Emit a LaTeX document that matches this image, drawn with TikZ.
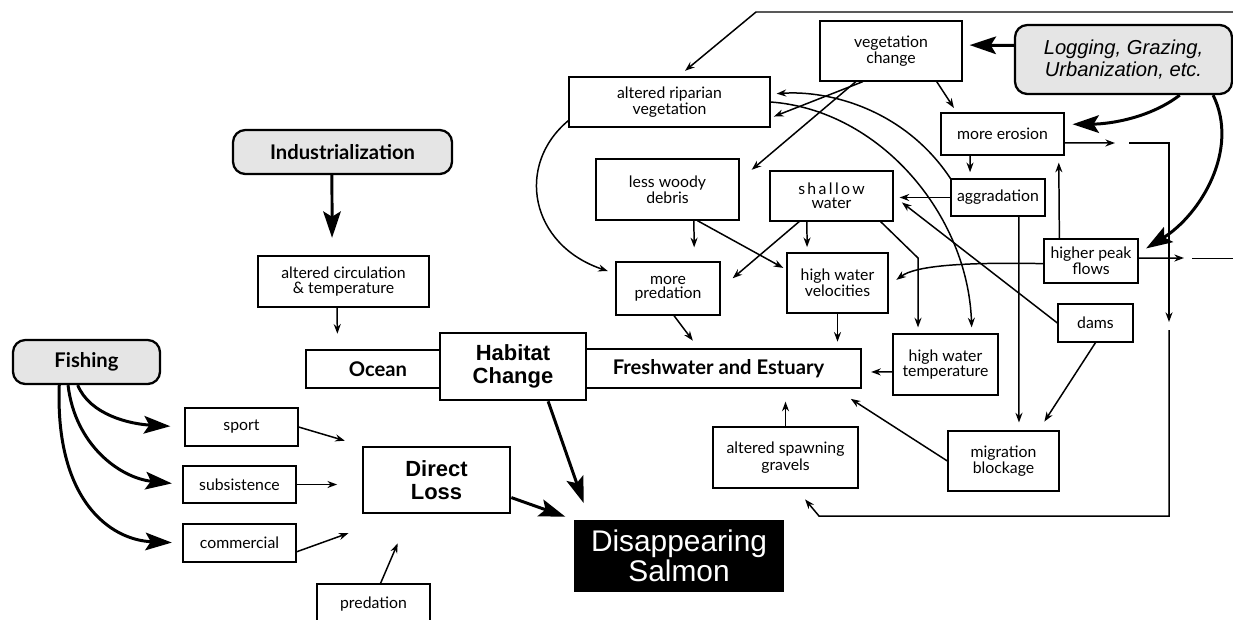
\documentclass[tikz,border=0pt]{standalone}
\usepackage{fontspec}
\setmainfont{Lato}
\newfontfamily\helv{Liberation Sans}
\usetikzlibrary{arrows.meta}

\begin{document}
\begin{tikzpicture}[x=0.02cm, y=-0.02cm,
	box/.style={draw, line width=0.7pt, inner sep=0pt, align=center, font=\fontsize{9}{8}\selectfont},
	wall/.style={draw, line width=1.5pt, fill=white, inner sep=0pt, align=center},
	cause/.style={draw, line width=1.3pt, rounded corners=7pt, fill=black!10, inner sep=0pt, align=center, font=\fontsize{11.5}{12}\selectfont\bfseries},
	arr/.style={line width=0.85pt, -{Stealth[length=5.5pt,width=4pt]}},
	fat/.style={line width=1.7pt, -{Stealth[length=15pt,width=10pt,inset=3pt]}},
	sz/.style 2 args={minimum width=#1*0.02cm, minimum height=#2*0.02cm}]
	\useasboundingbox (0,0) rectangle (1233,619);
	\clip (0,0) rectangle (1233,619);
	% root causes
	\node[cause, sz={219}{44}] (indus) at (342.5,152) {Industrialization};
	\node[cause, sz={147}{44}] (fish) at (86.5,362) {Fishing};
	\node[cause, sz={217}{69}, font=\helv\itshape\fontsize{11.5}{13}\selectfont] (log) at (1123.5,59.5) {Logging, Grazing,\\Urbanization, etc.};
	% habitat bar
	\node[wall, sz={144}{38}, font=\fontsize{11.5}{12}\selectfont\bfseries] (ocean) at (378,369) {Ocean};
	\node[wall, sz={285}{39}, font=\fontsize{11.5}{12}\selectfont\bfseries] (fresh) at (718.5,368.5) {Freshwater and Estuary};
	\node[wall, sz={146}{67}, font=\helv\bfseries\fontsize{12.5}{13}\selectfont] (habitat) at (513,366.5) {Habitat\\Change};
	\node[wall, sz={147}{66}, font=\helv\bfseries\fontsize{12.5}{13}\selectfont] (direct) at (436.5,480) {Direct\\Loss};
	\node[fill=black, text=white, inner sep=0pt, align=center, sz={210}{72}, font=\helv\fontsize{17}{15}\selectfont] (salmon) at (679,556) {Disappearing\\Salmon};
	% ocean and fishing side
	\node[box, sz={171}{51}] (circ) at (343.5,281.5) {altered circulation\\\& temperature};
	\node[box, sz={113}{38}] (sport) at (241.5,427) {sport};
	\node[box, sz={113}{37}] (subs) at (239.5,484.5) {subsistence};
	\node[box, sz={113}{38}] (comm) at (239.5,543) {commercial};
	\node[box, sz={113}{40}] (pred) at (373.5,604) {predation};
	% land use side
	\node[box, sz={201}{50}] (riparian) at (669.5,102) {altered riparian\\vegetation};
	\node[box, sz={142}{60}] (vegchg) at (891,51) {vegetation\\change};
	\node[box, sz={143}{61}] (woody) at (667.5,189.5) {less woody\\debris};
	\node[box, sz={123}{50}] (shallow) at (831.5,196) {{\addfontfeature{LetterSpace=15}shallow}\\water};
	\node[box, sz={104}{53}] (morepred) at (668,288.5) {more\\predation};
	\node[box, sz={101}{60}] (highvel) at (837.5,283) {high water\\velocities};
	\node[box, sz={123}{42}] (erosion) at (1002.5,134) {more erosion};
	\node[box, sz={94}{37}] (aggr) at (998,197.5) {aggradation};
	\node[box, sz={94}{44}] (peak) at (1091,261) {higher peak\\flows};
	\node[box, sz={75}{38}] (dams) at (1095.5,323) {dams};
	\node[box, sz={105}{61}] (hightemp) at (945.5,364.5) {high water\\temperature};
	\node[box, sz={111}{60}] (migr) at (1003.5,461) {migration\\blockage};
	\node[box, sz={145}{61}] (spawn) at (785.5,457.5) {altered spawning\\gravels};
	% loose ends of the long lines
	\coordinate (topR) at (1240,12);
	\coordinate (topL) at (756,12);
	\coordinate (ero1) at (1115,143);
	\coordinate (ero2) at (1129,143);
	\coordinate (ero3) at (1169,143);
	\coordinate (ero4) at (1169,322);
	\coordinate (ero5) at (1169,330);
	\coordinate (ero6) at (1169,516);
	\coordinate (ero7) at (819,516);
	\coordinate (flow1) at (1184,258);
	\coordinate (flow2) at (1192,258);
	\coordinate (flow3) at (1240,258);
	\coordinate (bend) at (918,258);
	% industrialization
	\draw[fat, shorten >=10pt] ([xshift=-6pt]indus.south) -- ([xshift=-6.5pt]circ.north);
	\draw[arr, shorten >=8.5pt] ([xshift=-3.7pt]circ.south) -- ([xshift=-23pt]ocean.north);
	% fishing
	\draw[fat, shorten >=8pt] ([xshift=-5pt]fish.south) .. controls (90,415) and (130,424) .. (sport.west);
	\draw[fat, shorten >=6pt] ([xshift=-10.5pt]fish.south) .. controls (75,445) and (120,478) .. (subs.west);
	\draw[fat, shorten >=6pt] ([xshift=-15.5pt]fish.south) .. controls (55,500) and (110,540) .. (comm.west);
	\draw[arr, shorten >=10pt] (sport.east) -- (direct.north west);
	\draw[arr, shorten >=14pt] (subs.east) -- (direct.west |- subs.east);
	\draw[arr, shorten >=8pt] ([yshift=-5pt]comm.east) -- ([yshift=-8pt]direct.south west);
	\draw[arr, shorten >=18pt] ([xshift=4pt]pred.north) -- ([xshift=-15pt]direct.south);
	% into the salmon
	\draw[fat, shorten >=5pt] ([yshift=-10pt]direct.east) -- (salmon.north west);
	\draw[fat, shorten >=10pt] ([xshift=20pt]habitat.south) -- ([xshift=9pt]salmon.north west);
	% logging, grazing etc.
	\draw[arr, shorten >=5pt] (topR) -- (topL) -- ([xshift=5pt]riparian.north);
	\draw[fat, shorten >=4pt] ([yshift=8pt]log.west) -- ([yshift=3.4pt]vegchg.east);
	\draw[fat, shorten >=4.5pt] ([xshift=32pt]log.south) .. controls (1150,118) and (1110,124) .. ([yshift=5.5pt]erosion.east);
	\draw[fat, shorten >=5pt] ([xshift=51pt]log.south) .. controls (1240,150) and (1200,215) .. ([yshift=4.5pt]peak.east);
	% vegetation change
	\draw[arr, shorten >=2pt] ([xshift=-16pt]vegchg.south) -- ([yshift=-9pt]riparian.east);
	\draw[arr, shorten >=9pt] ([xshift=-20pt]vegchg.south) -- ([yshift=5.4pt]woody.east);
	\draw[arr, shorten >=3pt] ([xshift=26pt]vegchg.south) -- ([xshift=-26pt]erosion.north);
	\draw[arr, shorten >=4.5pt] ([yshift=4pt]riparian.south west) .. controls (515,165) and (530,245) .. ([yshift=8.5pt]morepred.west);
	\draw[arr, shorten >=3.4pt] (riparian.east) .. controls (880,110) and (968,215) .. ([xshift=15pt]hightemp.north);
	% erosion and flows
	\draw[arr] ([yshift=-5pt]erosion.east) -- (ero1);
	\draw[arr] (ero2) -- (ero3) -- (ero4);
	\draw[arr, shorten >=8pt] (ero5) -- (ero6) -- (ero7) -- ([xshift=6pt]spawn.south);
	\draw[arr, shorten >=3.5pt] ([xshift=-18.5pt]erosion.south) -- ([xshift=-15.9pt]aggr.north);
	\draw[arr, shorten >=4pt] ([xshift=-18pt]peak.north) -- ([xshift=32pt]erosion.south);
	\draw[arr] ([yshift=1.7pt]peak.east) -- (flow1);
	\draw (flow2) -- (flow3);
	\draw[arr, shorten >=5.5pt] ([yshift=-1.5pt]peak.west) .. controls (960,262) and (915,266) .. ([yshift=-1.5pt]highvel.east);
	\draw[arr, shorten >=3.4pt] (aggr.west) -- (aggr.west -| shallow.east);
	\draw[arr, shorten >=3.4pt] (aggr.north west) .. controls (905,110) and (830,90) .. ([yshift=4.5pt]riparian.east);
	\draw[arr, shorten >=4.5pt] ([xshift=11.9pt]aggr.south) -- ([xshift=8.8pt]migr.north);
	% dams
	\draw[arr, shorten >=6pt] (dams.west) -- (shallow.east);
	\draw[arr, shorten >=6pt] (dams.south) -- ([xshift=20pt]migr.north);
	% into freshwater and estuary
	\draw[arr, shorten >=10pt] (migr.west) -- ([xshift=-15pt]fresh.south east);
	\draw[arr, shorten >=5pt] ([yshift=-4.2pt]hightemp.west) -- ([yshift=-2pt]fresh.east);
	\draw[arr, shorten >=3.4pt] (highvel.south) -- (highvel.south |- fresh.north);
	\draw[arr, shorten >=5pt] ([xshift=3.4pt]morepred.south) -- ([xshift=-11.6pt]fresh.north);
	\draw[arr, shorten >=7pt] (spawn.north) -- (spawn.north |- fresh.south);
	% woody debris and shallow water
	\draw[arr, shorten >=8pt] ([xshift=15pt]woody.south) -- ([xshift=15pt]morepred.north);
	\draw[arr, shorten >=2pt] ([xshift=17pt]woody.south) -- ([yshift=7.6pt]highvel.west);
	\draw[arr, shorten >=9pt] ([xshift=-18.4pt]shallow.south) -- (morepred.east);
	\draw[arr, shorten >=3pt] ([xshift=-14pt]shallow.south) -- ([xshift=-17.3pt]highvel.north);
	\draw[arr, shorten >=3.4pt] ([xshift=-7.4pt]shallow.south east) -- (bend) -- (bend |- hightemp.north);
\end{tikzpicture}
\end{document}
